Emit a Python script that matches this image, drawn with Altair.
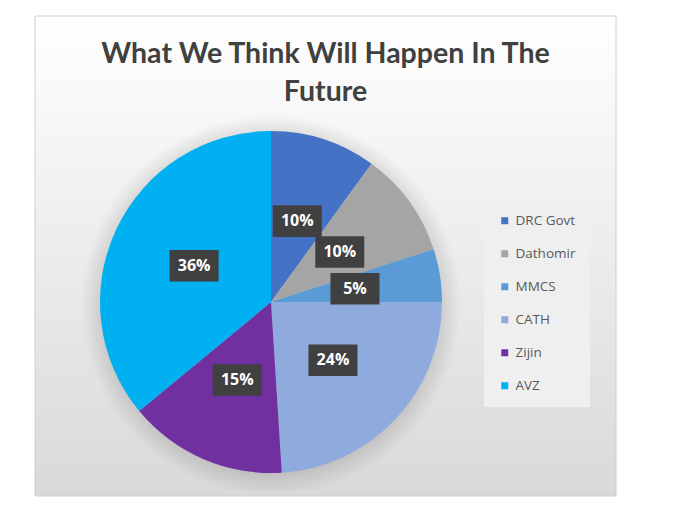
import altair as alt
import pandas as pd

companies = ["DRC Govt", "Dathomir", "MMCS", "CATH", "Zijin", "AVZ"]
shares = [10, 10, 5, 24, 15, 36]
colors = ["#4472C4", "#A5A5A5", "#5B9BD5", "#8FAADC", "#7030A0", "#00B0F0"]
title_lines = ["What We Think Will Happen In The", "Future"]

df = pd.DataFrame({"company": companies, "share": shares, "order": list(range(len(companies)))})

W, H = 581, 480
CX, CY, R = 236, 286, 171
LR = 85

one = pd.DataFrame({"k": [0]})

frame_bg = alt.Chart(one).mark_rect(
    color=alt.Gradient(
        gradient="linear",
        x1=0, y1=0, x2=0, y2=1,
        stops=[
            alt.GradientStop(offset=0, color="#ffffff"),
            alt.GradientStop(offset=1, color="#d9d9d9"),
        ],
    ),
    stroke="#cfcfcf",
    strokeWidth=1,
).encode(
    x=alt.value(0), x2=alt.value(W), y=alt.value(0), y2=alt.value(H)
)

halo = alt.Chart(one).mark_arc(
    theta=0,
    theta2=6.2832,
    outerRadius=190,
    color=alt.Gradient(
        gradient="radial",
        x1=0.5, y1=0.5, r1=0, x2=0.5, y2=0.5, r2=0.5,
        stops=[
            alt.GradientStop(offset=0.85, color="rgba(0,0,0,0.16)"),
            alt.GradientStop(offset=1, color="rgba(0,0,0,0)"),
        ],
    ),
).encode(x=alt.value(CX), y=alt.value(CY + 3))

base = alt.Chart(df)

pie = base.mark_arc(outerRadius=R, strokeWidth=0).encode(
    theta=alt.Theta("share:Q", stack=True),
    order=alt.Order("order:Q"),
    color=alt.Color(
        "company:N",
        sort=companies,
        scale=alt.Scale(domain=companies, range=colors),
        legend=alt.Legend(
            title=None,
            orient="none",
            legendX=449,
            legendY=184,
            symbolType="square",
            symbolSize=49,
            symbolStrokeWidth=0,
            labelFontSize=13.5,
            labelFont="Open Sans",
            labelColor="#595959",
            rowPadding=18,
            padding=14,
            fillColor="#efefef",
            labelOffset=4,
        ),
    ),
    x=alt.value(CX),
    y=alt.value(CY),
)

labels_base = base.transform_joinaggregate(
    total="sum(share)"
).transform_window(
    cum="sum(share)", sort=[alt.SortField("order")], frame=[None, 0]
).transform_calculate(
    mid="(datum.cum - datum.share / 2) / datum.total * 2 * PI",
    label="datum.share + '%'",
).transform_calculate(
    px=f"{CX} + {LR} * sin(datum.mid)",
    py=f"{CY} - {LR} * cos(datum.mid)",
)

boxes = labels_base.mark_point(
    shape="M-1.55,-1L1.55,-1L1.55,1L-1.55,1Z",
    filled=True,
    color="#404040",
    opacity=1,
    size=1000,
).encode(
    x=alt.X("px:Q", scale=None),
    y=alt.Y("py:Q", scale=None),
)

texts = labels_base.mark_text(
    font="Open Sans",
    fontSize=16,
    fontWeight="bold",
    color="#ffffff",
    align="center",
    baseline="middle",
).encode(
    x=alt.X("px:Q", scale=None),
    y=alt.Y("py:Q", scale=None),
    text="label:N",
)

chart = alt.layer(frame_bg, halo, pie, boxes, texts).properties(
    width=W,
    height=H,
    title=alt.TitleParams(
        text=title_lines,
        font="Lato",
        fontSize=28.5,
        fontWeight="bold",
        color="#404040",
        anchor="middle",
        baseline="top",
        offset=0,
        dy=91,
        lineHeight=38,
    ),
    autosize=alt.AutoSizeParams(type="none"),
    padding={"left": 27, "top": 8, "right": 10, "bottom": 10},
).configure_view(
    stroke=None,
)

chart.save("out.html", embed_options={"renderer": "svg", "actions": False})
